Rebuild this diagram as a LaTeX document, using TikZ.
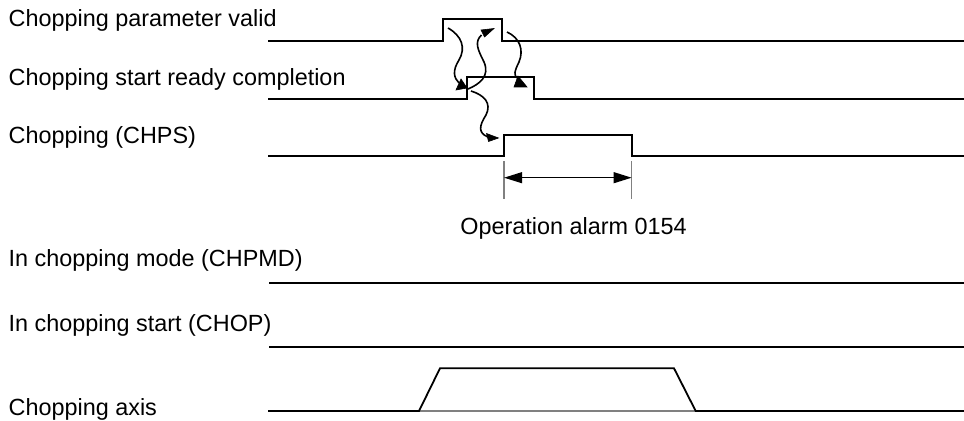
\documentclass[tikz,border=0pt]{standalone}
\usepackage{fontspec}
\setmainfont{Liberation Sans}
\usetikzlibrary{arrows.meta}
\begin{document}
\begin{tikzpicture}[x=0.5pt,y=-0.5pt,
  wave/.style={line width=0.9pt, line join=miter},
  lbl/.style={anchor=base west, inner sep=0pt, font=\fontsize{11.7pt}{14pt}\selectfont},
  cause/.style={line width=0.8pt},
  head/.style={fill=black, draw=black, line width=0.3pt, line join=miter},
  dim/.style={draw=gray, line width=0.55pt}]
\useasboundingbox[fill=white] (0,0) rectangle (964,421);

% labels
\node[lbl] (l1) at (8.3,27) {Chopping parameter valid};
\node[lbl] (l2) at (8.3,85.5) {Chopping start ready completion};
\node[lbl] (l3) at (8.3,143.5) {Chopping (CHPS)};
\node[lbl] (l4) at (8.3,266.7) {In chopping mode (CHPMD)};
\node[lbl] (l5) at (8.3,331.7) {In chopping start (CHOP)};
\node[lbl] (l6) at (8.3,416) {Chopping axis};
\node[lbl] (alarm) at (460,235) {Operation alarm 0154};

% waveforms
\draw[wave] (268,40.7) -- (443.3,40.7) -- (443.3,19) -- (502,19) -- (502,40.7) -- (964,40.7);
\draw[wave] (268,99) -- (466.7,99) -- (466.7,76.7) -- (534,76.7) -- (534,99) -- (964,99);
\draw[wave] (268,156) -- (504,156) -- (504,135) -- (631.7,135) -- (631.7,156) -- (964,156);
\draw[wave] (269,283.3) -- (964,283.3);
\draw[wave] (269,347.3) -- (964,347.3);
\draw[draw=gray, line width=0.9pt] (419,411) -- (695.7,411);
\draw[wave] (268,411) -- (419,411) -- (440,368.3) -- (674,368.3) -- (695.7,411) -- (964,411);

% dimension for alarm
\coordinate (d1) at (504,177.7);
\coordinate (d2) at (631.7,177.7);
\draw[dim] (504,161) -- (504,199);
\draw[dim] (631.7,161) -- (631.7,199);
\draw[line width=0.8pt, {Triangle[length=9pt,width=5.4pt]}-{Triangle[length=9pt,width=5.4pt]}] (d1) -- (d2);

% cause-effect arrows
\coordinate (s1) at (448,28);   \coordinate (e1) at (459,83);
\coordinate (s2) at (468,89);   \coordinate (e2) at (481.5,35);
\coordinate (s3) at (507,32);   \coordinate (e3) at (517,78);
\coordinate (s4) at (471,91);   \coordinate (e4) at (488,137);

\draw[cause] (s1) .. controls (462,36) and (466,48) .. (459,60) .. controls (452,71) and (454,78) .. (e1);
\fill[head] (461,79) -- (456,90) -- (467,88) -- cycle;

\draw[cause] (s2) .. controls (480,84) and (490,76) .. (484,62) .. controls (478,50) and (474,42) .. (e2);
\fill[head] (481,30) -- (494,28.5) -- (484.5,37) -- cycle;

\draw[cause] (s3) .. controls (520,38) and (524,50) .. (519,62) .. controls (514,72) and (514,75) .. (e3);
\fill[head] (518,76) -- (514,87) -- (527,87) -- cycle;

\draw[cause] (s4) .. controls (484,95) and (492,103) .. (486,115) .. controls (479,126) and (478,133) .. (e4);
\fill[head] (486.5,133.5) -- (498.5,138) -- (488.5,141.5) -- cycle;
\end{tikzpicture}
\end{document}
